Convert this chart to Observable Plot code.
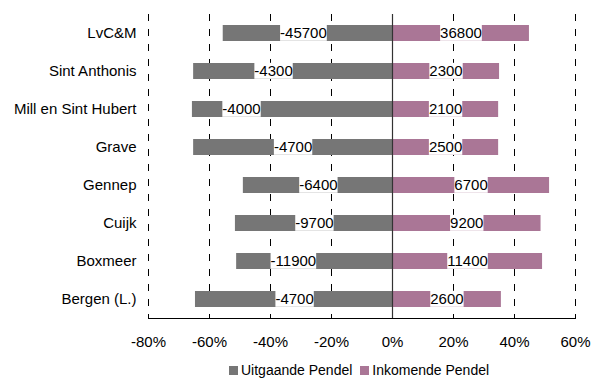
<!DOCTYPE html>
<html><head><meta charset="utf-8">
<script src="https://cdn.jsdelivr.net/npm/d3@7"></script>
<script src="https://cdn.jsdelivr.net/npm/@observablehq/plot@0.6"></script>
<style>
body{margin:0;background:#fff;font-family:"Liberation Sans",Arial,sans-serif}
#legend{display:flex;align-items:center;height:36px;padding-left:229px;font-size:14px;color:#000}
#legend .sw{width:9px;height:9px;display:inline-block;margin-right:3px}
#legend .item{display:flex;align-items:center;margin-right:8px}
</style>
</head><body><div id="chart"></div>
<script>
const gemeenten = ["LvC&M","Sint Anthonis","Mill en Sint Hubert","Grave","Gennep","Cuijk","Boxmeer","Bergen (L.)"];
const uitgaandePct = [-55.5,-65.2,-65.6,-65.2,-48.9,-51.5,-51.1,-64.6];
const inkomendePct = [44.9,35.1,34.8,34.8,51.5,48.7,49.2,35.7];
const uitgaandeAantal = [-45700,-4300,-4000,-4700,-6400,-9700,-11900,-4700];
const inkomendeAantal = [36800,2300,2100,2500,6700,9200,11400,2600];
const uitgaandeLabelPos = [-29.2,-39.0,-49.5,-32.6,-24.3,-25.6,-32.5,-32.1];
const xTicks = [-80,-60,-40,-20,0,20,40,60];
const seriesNames = ["Uitgaande Pendel","Inkomende Pendel"];
const seriesColors = ["#767676","#aa7696"];

const out = gemeenten.map((g,i)=>({g, v: uitgaandePct[i], n: uitgaandeAantal[i], lp: uitgaandeLabelPos[i]}));
const inc = gemeenten.map((g,i)=>({g, v: inkomendePct[i], n: inkomendeAantal[i], lp: inkomendePct[i]/2}));

const chart = Plot.plot({
  width: 592, height: 352,
  marginTop: 14, marginBottom: 34, marginLeft: 148, marginRight: 17,
  style: {fontSize: "15px", fontFamily: "'Liberation Sans', Arial, sans-serif", color: "#000", background: "#fff"},
  x: {domain: [-80, 60], ticks: xTicks, tickFormat: d => d + "%", tickSize: 0, tickPadding: 18, label: null},
  y: {domain: gemeenten, paddingInner: 0.58, paddingOuter: 0.29, tickSize: 0, tickPadding: 12, label: null},
  marks: [
    Plot.ruleX(xTicks.filter(d => d !== 0), {stroke: "#000", strokeWidth: 1, strokeDasharray: "7,8"}),
    Plot.barX(out, {x1: 0, x2: "v", y: "g", fill: seriesColors[0]}),
    Plot.barX(inc, {x1: 0, x2: "v", y: "g", fill: seriesColors[1]}),
    Plot.ruleX([0], {stroke: "#333", strokeWidth: 1.2}),
    Plot.frame({anchor: "bottom", stroke: "#000"}),
    Plot.text(out, {x: "lp", y: "g", text: d => String(d.n), fill: "#000"}),
    Plot.text(inc, {x: "lp", y: "g", text: d => String(d.n), fill: "#000"})
  ]
});
document.getElementById("chart").appendChild(chart);

// white boxes behind value labels
const svg = chart.tagName.toLowerCase() === "svg" ? chart : chart.querySelector("svg");
svg.querySelectorAll('g[aria-label="text"] text').forEach(t => {
  const b = t.getBBox();
  const r = document.createElementNS("http://www.w3.org/2000/svg", "rect");
  r.setAttribute("x", b.x); r.setAttribute("y", b.y + 0.5);
  r.setAttribute("width", b.width); r.setAttribute("height", b.height - 1);
  r.setAttribute("fill", "#fff");
  const tr = t.getAttribute("transform"); if (tr) r.setAttribute("transform", tr);
  t.parentNode.insertBefore(r, t);
});

const legend = document.createElement("div");
legend.id = "legend";
seriesNames.forEach((s,i) => {
  const it = document.createElement("span"); it.className = "item";
  const sw = document.createElement("span"); sw.className = "sw"; sw.style.background = seriesColors[i];
  it.appendChild(sw); it.appendChild(document.createTextNode(s));
  legend.appendChild(it);
});
document.body.appendChild(legend);
</script>
</body></html>
